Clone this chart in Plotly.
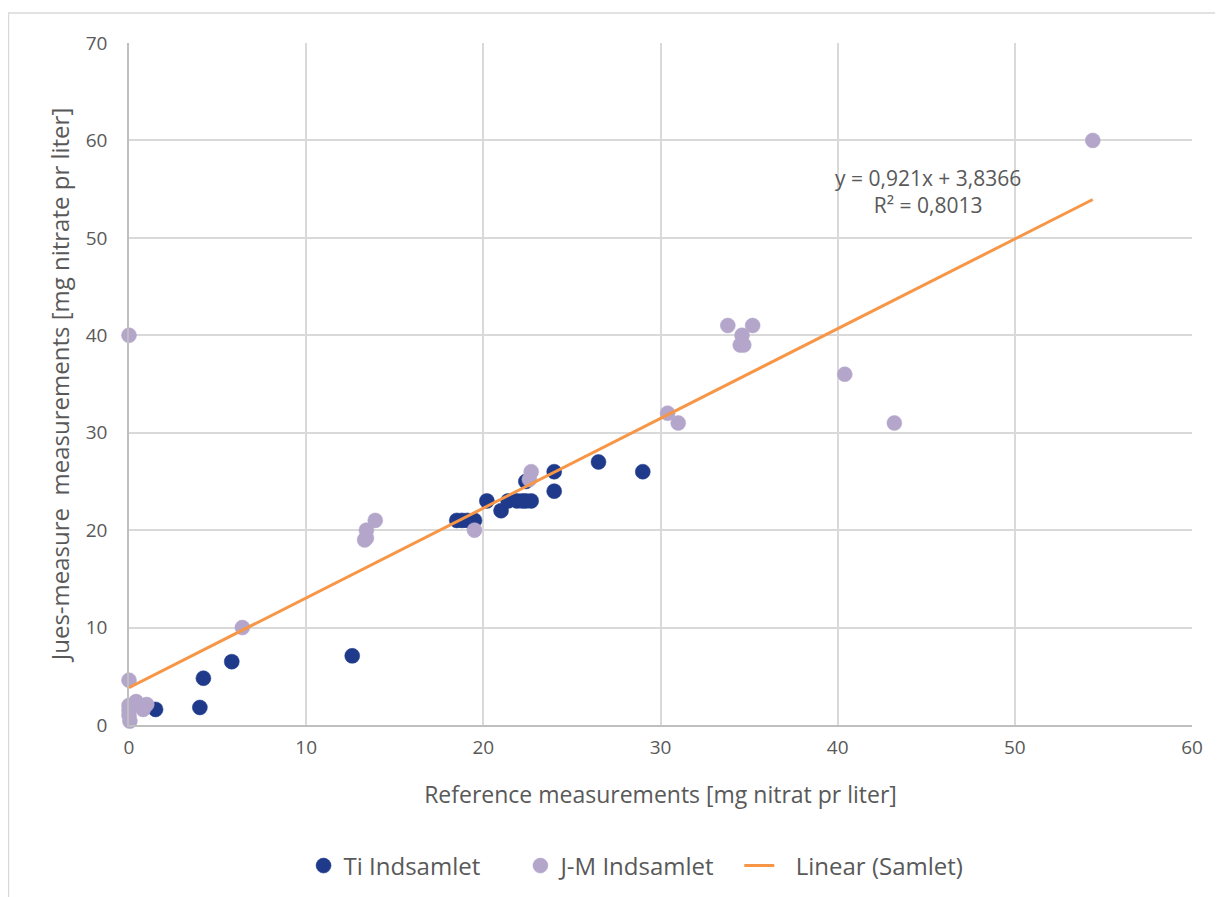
import plotly.graph_objects as go

# Ti Indsamlet
ti_x = [1.5, 4.0, 4.2, 5.8, 12.6, 18.5, 18.8, 19.1, 19.5, 20.2, 21.0, 21.4, 21.9, 22.2, 22.4, 22.7, 22.4, 24.0, 24.0, 26.5, 29.0]
ti_y = [1.6, 1.8, 4.8, 6.5, 7.1, 21.0, 21.0, 21.0, 21.0, 23.0, 22.0, 23.0, 23.0, 23.0, 23.0, 23.0, 25.0, 26.0, 24.0, 27.0, 26.0]

# J-M Indsamlet
jm_x = [0.0, 0.0, 0.0, 0.05, 0.0, 0.4, 0.8, 1.0, 0.0, 6.4, 13.3, 13.4, 13.4, 13.9, 19.5, 22.6, 22.7,
        30.4, 31.0, 33.8, 35.2, 34.6, 34.5, 34.7, 40.4, 43.2, 54.4]
jm_y = [4.6, 2.0, 1.0, 0.4, 1.5, 2.4, 1.6, 2.1, 40.0, 10.0, 19.0, 19.2, 20.0, 21.0, 20.0, 25.2, 26.0,
        32.0, 31.0, 41.0, 41.0, 40.0, 39.0, 39.0, 36.0, 31.0, 60.0]

# Linear trend (Samlet)
slope = 0.921
intercept = 3.8366
trend_x = [0.0, 54.4]
trend_y = [slope * v + intercept for v in trend_x]

x_ticks = [0, 10, 20, 30, 40, 50, 60]
y_ticks = [0, 10, 20, 30, 40, 50, 60, 70]

font_family = "Open Sans, Lato, sans-serif"
text_color = "#595959"
NB = "\u00a0"
TH = "\u2009"

fig = go.Figure()
fig.add_trace(go.Scatter(
    x=ti_x, y=ti_y, mode="markers", name="Ti Indsamlet" + NB * 5 + TH, cliponaxis=False,
    marker=dict(color="#1F3A8A", size=15, line=dict(color="#1F3A8A", width=0.5)),
))
fig.add_trace(go.Scatter(
    x=jm_x, y=jm_y, mode="markers", name="J-M Indsamlet" + NB * 3, cliponaxis=False,
    marker=dict(color="#B4A6CB", size=15, line=dict(color="#B4A6CB", width=0.5)),
))
fig.add_trace(go.Scatter(
    x=trend_x, y=trend_y, mode="lines", name=NB * 2 + TH + "Linear (Samlet)", cliponaxis=False,
    line=dict(color="#F79646", width=3),
))

fig.add_annotation(
    x=45.1, y=54.8, xref="x", yref="y",
    text="y = 0,921x + 3,8366<br>R² = 0,8013",
    showarrow=False, align="center",
    font=dict(family=font_family, size=21, color=text_color),
)

# outer chart frame
fig.add_shape(type="rect", xref="paper", yref="paper",
              x0=-0.1134, x1=1.05, y0=-0.5, y1=1.044,
              line=dict(color="#D9D9D9", width=1.5), layer="below")

fig.update_layout(
    width=1215, height=889,
    margin=dict(l=121, r=31, t=35, b=172, autoexpand=False),
    paper_bgcolor="white", plot_bgcolor="white",
    font=dict(family=font_family, size=19, color=text_color),
    showlegend=True,
    legend=dict(orientation="h", x=0.477, xanchor="center", y=-0.2067, yanchor="middle",
                font=dict(family=font_family, size=24, color=text_color),
                traceorder="normal"),
    xaxis=dict(range=[0, 60], tickvals=x_ticks, showgrid=True, gridcolor="#D9D9D9", gridwidth=1.5,
               zeroline=False, showline=True, linecolor="#BFBFBF", linewidth=1.5,
               ticks="", tickfont=dict(size=19, color=text_color), ticklabelstandoff=4,
               automargin=False,
               title=dict(text="Reference measurements [mg nitrat pr liter]",
                          font=dict(size=23, color=text_color), standoff=28)),
    yaxis=dict(range=[0, 70], tickvals=y_ticks, showgrid=True, gridcolor="#D9D9D9", gridwidth=1.5,
               zeroline=False, showline=True, linecolor="#BFBFBF", linewidth=1.5,
               ticks="", tickfont=dict(size=19, color=text_color), ticklabelstandoff=16,
               automargin=False,
               title=dict(text="Jues-measure" + NB + " measurements [mg nitrate pr liter]",
                          font=dict(size=24, color=text_color), standoff=9)),
)

fig.write_html("out.html")
